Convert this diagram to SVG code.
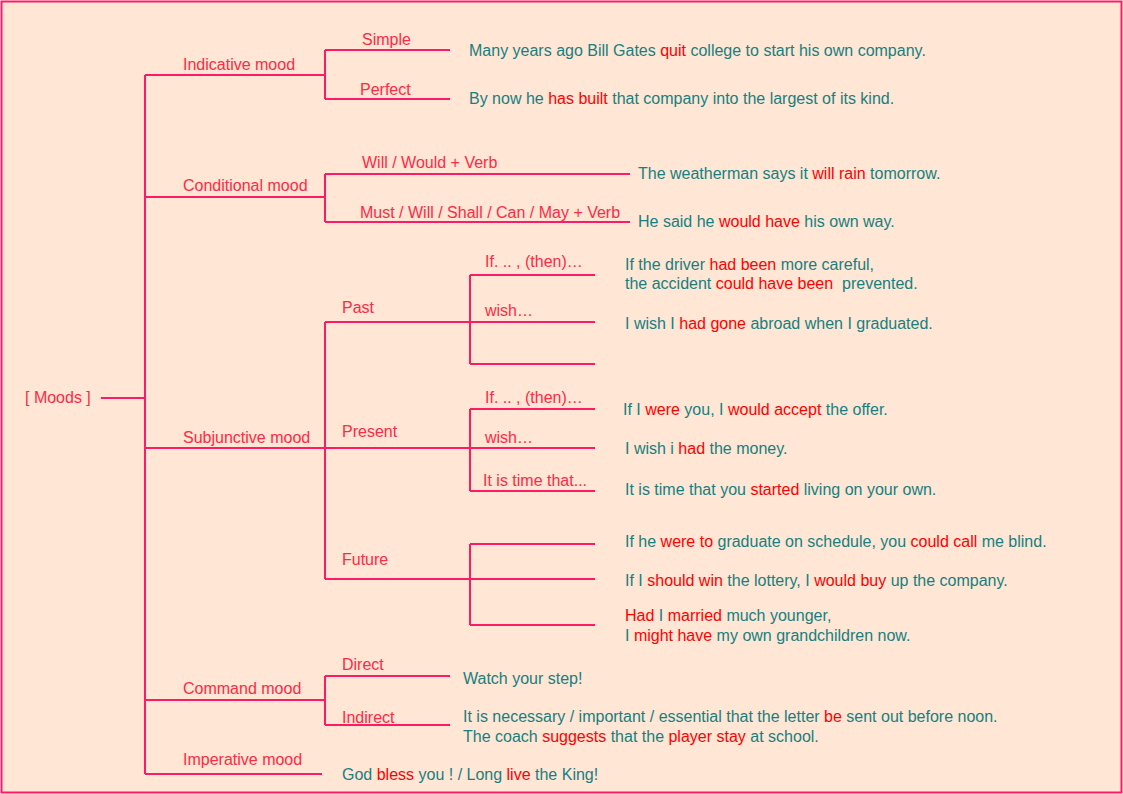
<svg xmlns="http://www.w3.org/2000/svg" width="1123" height="794" viewBox="0 0 1123 794">
<style>
.ln{stroke:#ff1a66;stroke-width:2;fill:none}
.lb{font-family:"Liberation Sans",Arial,sans-serif;font-size:16px;fill:#ff2a45}
.tx{font-family:"Liberation Sans",Arial,sans-serif;font-size:16px;fill:#168080}
.r{fill:#ff0000}
</style>
<rect x="1.5" y="1.5" width="1120" height="791" fill="#ffe6d5" stroke="#ff1a66" stroke-width="2"/>
<g id="connectors">
<path class="ln" d="M101,398H145M145,75V774"/>
<path class="ln" d="M145,75H325M325,50V99M325,50H450M325,99H450"/>
<path class="ln" d="M145,197H325M325,174V222M325,174H630M325,222H630"/>
<path class="ln" d="M145,448H325M325,322V579"/>
<path class="ln" d="M325,322H470M470,275V364M470,275H595M470,322H595M470,364H595"/>
<path class="ln" d="M325,448H470M470,409V491M470,409H595M470,448H595M470,491H595"/>
<path class="ln" d="M325,579H470M470,544V625M470,544H595M470,579H595M470,625H595"/>
<path class="ln" d="M145,700H325M325,676V725M325,676H450M325,725H450"/>
<path class="ln" d="M145,774H322"/>
</g>
<g id="moods"><text class="lb" x="25" y="403">[ Moods ]</text></g>
<g id="indicative">
<text class="lb" x="183" y="70">Indicative mood</text>
</g>
<g id="ind-simple">
<text class="lb" x="362" y="45">Simple</text>
<text class="tx" x="469" y="56">Many years ago Bill Gates <tspan class="r">quit</tspan> college to start his own company.</text>
</g>
<g id="ind-perfect">
<text class="lb" x="360" y="95">Perfect</text>
<text class="tx" x="469" y="104">By now he <tspan class="r">has built</tspan> that company into the largest of its kind.</text>
</g>
<g id="conditional">
<text class="lb" x="183" y="191">Conditional mood</text>
</g>
<g id="cond-will">
<text class="lb" x="362" y="168">Will / Would + Verb</text>
<text class="tx" x="638" y="179">The weatherman says it <tspan class="r">will rain</tspan> tomorrow.</text>
</g>
<g id="cond-must">
<text class="lb" x="360" y="218">Must / Will / Shall / Can / May + Verb</text>
<text class="tx" x="638" y="227">He said he <tspan class="r">would have</tspan> his own way.</text>
</g>
<g id="subjunctive">
<text class="lb" x="183" y="443">Subjunctive mood</text>
</g>
<g id="past">
<text class="lb" x="342" y="313">Past</text>
<text class="lb" x="485" y="267">If. .. , (then)…</text>
<text class="lb" x="485" y="316">wish…</text>
<text class="tx" x="625" y="270">If the driver <tspan class="r">had been</tspan> more careful,</text>
<text class="tx" x="625" y="289" xml:space="preserve">the accident <tspan class="r">could have been</tspan>  prevented.</text>
<text class="tx" x="625" y="329">I wish I <tspan class="r">had gone</tspan> abroad when I graduated.</text>
</g>
<g id="present">
<text class="lb" x="342" y="437">Present</text>
<text class="lb" x="485" y="403">If. .. , (then)…</text>
<text class="lb" x="485" y="443">wish…</text>
<text class="lb" x="483" y="486">It is time that...</text>
<text class="tx" x="623" y="415">If I <tspan class="r">were</tspan> you, I <tspan class="r">would accept</tspan> the offer.</text>
<text class="tx" x="625" y="454">I wish i <tspan class="r">had</tspan> the money.</text>
<text class="tx" x="625" y="495">It is time that you <tspan class="r">started</tspan> living on your own.</text>
</g>
<g id="future">
<text class="lb" x="342" y="565">Future</text>
<text class="tx" x="625" y="547">If he <tspan class="r">were to</tspan> graduate on schedule, you <tspan class="r">could call</tspan> me blind.</text>
<text class="tx" x="625" y="586">If I <tspan class="r">should win</tspan> the lottery, I <tspan class="r">would buy</tspan> up the company.</text>
<text class="tx" x="625" y="621"><tspan class="r">Had</tspan> I <tspan class="r">married</tspan> much younger,</text>
<text class="tx" x="625" y="641">I <tspan class="r">might have</tspan> my own grandchildren now.</text>
</g>
<g id="command">
<text class="lb" x="183" y="694">Command mood</text>
</g>
<g id="cmd-direct">
<text class="lb" x="342" y="670">Direct</text>
<text class="tx" x="463" y="684">Watch your step!</text>
</g>
<g id="cmd-indirect">
<text class="lb" x="342" y="723">Indirect</text>
<text class="tx" x="463" y="722">It is necessary / important / essential that the letter <tspan class="r">be</tspan> sent out before noon.</text>
<text class="tx" x="463" y="742">The coach <tspan class="r">suggests</tspan> that the <tspan class="r">player stay</tspan> at school.</text>
</g>
<g id="imperative">
<text class="lb" x="183" y="765">Imperative mood</text>
<text class="tx" x="342" y="780">God <tspan class="r">bless</tspan> you ! / Long <tspan class="r">live</tspan> the King!</text>
</g>
</svg>
